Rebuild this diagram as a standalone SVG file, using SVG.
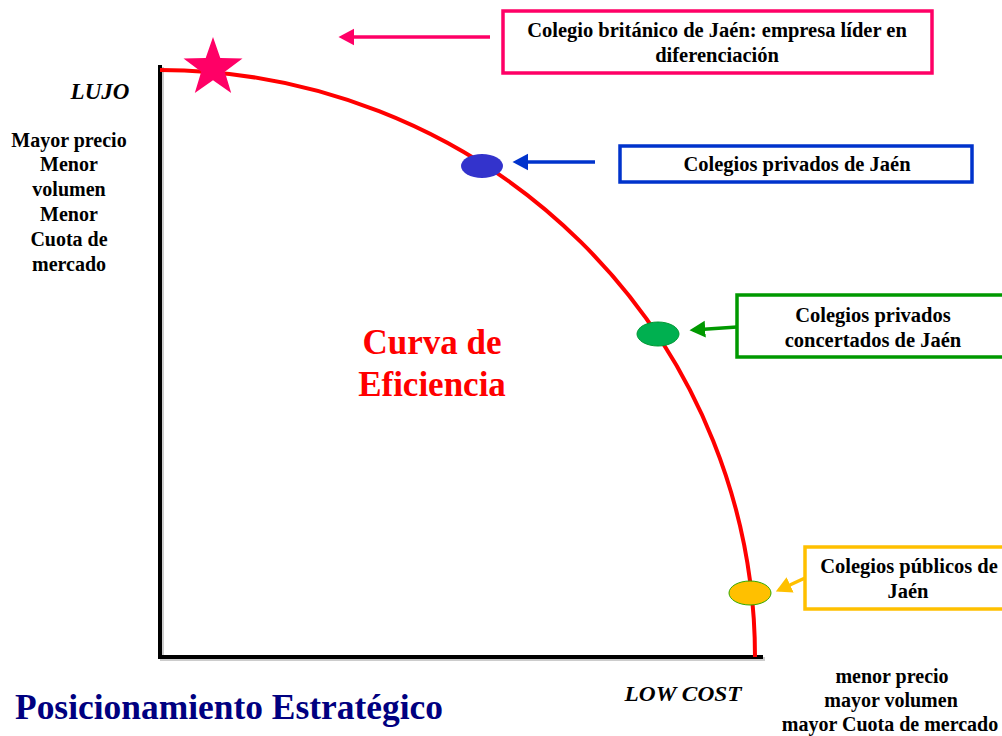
<svg xmlns="http://www.w3.org/2000/svg" width="1002" height="736" viewBox="0 0 1002 736" font-family="'Liberation Serif', 'Times New Roman', serif">
<style>
.t{font-family:'Liberation Serif','Times New Roman',serif;font-weight:bold;fill:#000;text-anchor:middle}
.box{fill:#fff;stroke-width:3.5}
.arr{stroke-width:3.5;fill:none}
</style>
<defs>
<marker id="mp" markerWidth="6" markerHeight="6" refX="3.5" refY="3" orient="auto" markerUnits="strokeWidth"><path d="M4.5,3 L0,0.6 L0,5.4 Z" fill="#FF0066"/></marker>
<marker id="mb" markerWidth="6" markerHeight="6" refX="3.5" refY="3" orient="auto" markerUnits="strokeWidth"><path d="M4.5,3 L0,0.6 L0,5.4 Z" fill="#0033CC"/></marker>
<marker id="mg" markerWidth="6" markerHeight="6" refX="3.5" refY="3" orient="auto" markerUnits="strokeWidth"><path d="M4.5,3 L0,0.6 L0,5.4 Z" fill="#009900"/></marker>
<marker id="my" markerWidth="6" markerHeight="6" refX="3.5" refY="3" orient="auto" markerUnits="strokeWidth"><path d="M4.5,3 L0,0.6 L0,5.4 Z" fill="#FFC000"/></marker>
</defs>
<rect width="1002" height="736" fill="#fff"/>
<g id="axes">
<path d="M162,67 V659 H765" stroke="#999" stroke-width="4" fill="none" opacity="0.5"/>
<path d="M160,65 V657 H763" stroke="#000" stroke-width="4" fill="none"/>
</g>
<g id="curve">
<path d="M160,70 A595,587 0 0 1 755,657" stroke="#FF0000" stroke-width="4" fill="none"/>
</g>
<g id="connectors">
<line x1="490" y1="37" x2="342" y2="37" stroke="#FF0066" class="arr" marker-end="url(#mp)"/>
<line x1="595" y1="162" x2="516" y2="162" stroke="#0033CC" class="arr" marker-end="url(#mb)"/>
<line x1="737" y1="327" x2="693" y2="330" stroke="#009900" class="arr" marker-end="url(#mg)"/>
<line x1="805" y1="578" x2="779" y2="590" stroke="#FFC000" class="arr" marker-end="url(#my)"/>
</g>
<g id="star">
<polygon points="213,37 220.3,57.9 242.5,58.4 224.8,71.7 231.2,92.9 213,80.3 194.8,92.9 201.2,71.7 183.5,58.4 205.7,57.9" fill="#FF0066"/>
</g>
<g id="dot-blue"><ellipse cx="482" cy="166" rx="21" ry="12" fill="#3333CC"/></g>
<g id="dot-green"><ellipse cx="658" cy="334" rx="21" ry="12" fill="#00B050" stroke="#009933" stroke-width="1"/></g>
<g id="dot-yellow"><ellipse cx="750" cy="593" rx="21" ry="12" fill="#FFC000" stroke="#33AA00" stroke-width="1"/></g>
<g id="box-britanico">
<rect x="503" y="11" width="429" height="62" class="box" stroke="#FF0066"/>
<text class="t" x="717" y="37" font-size="20.5">Colegio británico de Jaén: empresa líder en</text>
<text class="t" x="717" y="62" font-size="20.5">diferenciación</text>
</g>
<g id="box-privados">
<rect x="620" y="146" width="352" height="36" class="box" stroke="#0033CC"/>
<text class="t" x="797" y="171" font-size="20.5">Colegios privados de Jaén</text>
</g>
<g id="box-concertados">
<rect x="737" y="295" width="275" height="62" class="box" stroke="#009900"/>
<text class="t" x="873" y="322" font-size="20.5">Colegios privados</text>
<text class="t" x="873" y="347" font-size="20.5">concertados de Jaén</text>
</g>
<g id="box-publicos">
<rect x="805" y="547" width="207" height="62" class="box" stroke="#FFC000"/>
<text class="t" x="909" y="573" font-size="20.5">Colegios públicos de</text>
<text class="t" x="908" y="598" font-size="20.5">Jaén</text>
</g>
<g id="labels-left">
<text class="t" x="100" y="99" font-size="23" font-style="italic">LUJO</text>
<text class="t" x="69" y="147" font-size="20">Mayor precio</text>
<text class="t" x="69" y="171" font-size="20">Menor</text>
<text class="t" x="69" y="196" font-size="20">volumen</text>
<text class="t" x="69" y="221" font-size="20">Menor</text>
<text class="t" x="69" y="246" font-size="20">Cuota de</text>
<text class="t" x="69" y="271" font-size="20">mercado</text>
</g>
<g id="title-curva">
<text class="t" x="432" y="354" font-size="35" style="fill:#FF0000">Curva de</text>
<text class="t" x="432" y="396" font-size="35" style="fill:#FF0000">Eficiencia</text>
</g>
<g id="labels-bottom">
<text class="t" x="683" y="701" font-size="22" font-style="italic" textLength="117" lengthAdjust="spacingAndGlyphs">LOW COST</text>
<text class="t" x="892" y="683" font-size="20">menor precio</text>
<text class="t" x="891" y="707" font-size="20">mayor volumen</text>
<text class="t" x="890" y="731" font-size="20">mayor Cuota de mercado</text>
</g>
<g id="title">
<text class="t" x="229" y="719" font-size="35" style="fill:#000080" textLength="428" lengthAdjust="spacingAndGlyphs">Posicionamiento Estratégico</text>
</g>
</svg>
